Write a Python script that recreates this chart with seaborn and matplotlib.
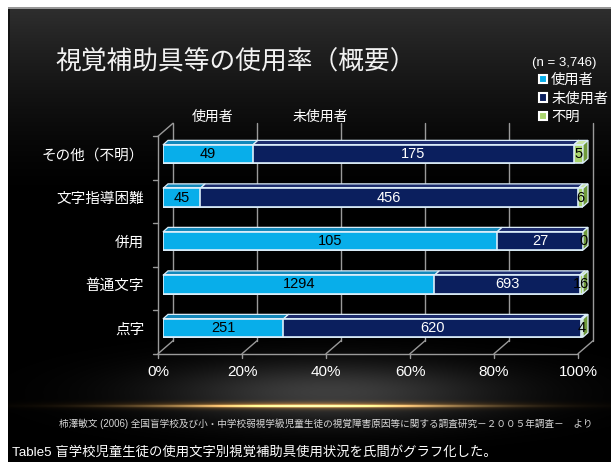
import numpy as np
import pandas as pd
import matplotlib
matplotlib.use("Agg")
import matplotlib.pyplot as plt
import seaborn as sns
from matplotlib.patches import Polygon, Patch
from matplotlib.transforms import ScaledTranslation
from matplotlib import font_manager

# ---- data -------------------------------------------------------------
categories = ["その他（不明）", "文字指導困難", "併用", "普通文字", "点字"]
series = ["使用者", "未使用者", "不明"]
used = [49, 45, 105, 1294, 251]
unused = [175, 456, 27, 693, 620]
unknown = [5, 6, 0, 16, 4]
x_ticks = [0, 20, 40, 60, 80, 100]
x_tick_labels = ["0%", "20%", "40%", "60%", "80%", "100%"]
total_n = 3746

title = "視覚補助具等の使用率（概要）"
header_labels = ["使用者", "未使用者"]
citation = ("柿澤敏文 (2006) 全国盲学校及び小・中学校弱視学級児童生徒の"
            "視覚障害原因等に関する調査研究－２００５年調査－　より")
caption = "Table5 盲学校児童生徒の使用文字別視覚補助具使用状況を氏間がグラフ化した。"

# ---- style ------------------------------------------------------------
sns.set_theme(style="white")
CJK = "Noto Sans CJK JP"
installed = {f.name for f in font_manager.fontManager.ttflist}
NARROW = [f for f in ["Liberation Sans Narrow", "Liberation Sans"]
          if f in installed] + [CJK]
plt.rcParams["font.family"] = [CJK, "DejaVu Sans"]

FACE = {"使用者": "#08AEEA", "未使用者": "#0B1F5E", "不明": "#A9D46E"}
TOP = {"使用者": "#1488BA", "未使用者": "#1E2D6E", "不明": "#C9E4A4"}
SIDE = "#6F9A3A"
EDGE = "#DCEEFA"
GRID = "#9a9a9a"
TXT = {"使用者": "black", "未使用者": "white", "不明": "black"}

# ---- table ------------------------------------------------------------
df = pd.DataFrame({"category": categories, "使用者": used,
                   "未使用者": unused, "不明": unknown})
totals = df[series].sum(axis=1)
pct = df[series].div(totals, axis=0) * 100
ends = pct.cumsum(axis=1)
starts = ends - pct
plot_df = pd.concat([df[["category"]], ends.add_prefix("end_")], axis=1)

# ---- figure & slide background ---------------------------------------
W, H = 611, 462
fig = plt.figure(figsize=(W / 100, H / 100), dpi=100, facecolor="white")

yy, xx = np.mgrid[0:H, 0:W].astype(float)
shade = 46 * np.clip(1 - (yy - 9) / 190, 0, 1) ** 1.5
haze = 62 * np.exp(-(((xx - 330) / 165) ** 2 + ((yy - 392) / 30) ** 2))
img = np.repeat((shade + haze)[..., None], 3, axis=2)
core = np.exp(-((xx - 310) / 140) ** 2) * np.exp(-((yy - 405.5) / 1.2) ** 2)
glow = np.exp(-((xx - 310) / 170) ** 2) * np.exp(-((yy - 405) / 3.5) ** 2)
img += core[..., None] * np.array([255, 215, 140])
img += glow[..., None] * np.array([110, 65, 10])
img = np.clip(img, 0, 255)
img[:7, :] = 255
img[7:9, 8:] = 150
img[:, :8] = 255
img[9:, 8:10] = np.minimum(img[9:, 8:10], 20)

ax_bg = fig.add_axes([0, 0, 1, 1], zorder=0)
ax_bg.imshow(img.astype(np.uint8), extent=(0, W, H, 0), aspect="auto",
             interpolation="bilinear")
ax_bg.set_xlim(0, W)
ax_bg.set_ylim(H, 0)
ax_bg.axis("off")

# ---- chart axes ------------------------------------------------------
left_px, right_px = 163, 583
top_px, bottom_px = 132.25, 349.75
ax = fig.add_axes([left_px / W, 1 - bottom_px / H,
                   (right_px - left_px) / W, (bottom_px - top_px) / H],
                  zorder=1)
ax.set_facecolor("none")

BAR_W = 0.42
# stacked bars: longest cumulative first so shorter ones sit on top
for s in reversed(series):
    sns.barplot(data=plot_df, y="category", x=f"end_{s}", color=FACE[s],
                saturation=1, width=BAR_W, orient="h", errorbar=None,
                edgecolor=EDGE, linewidth=1.2, ax=ax, zorder=3)

ax.set_xlim(0, 100)
ax.set_ylim(len(categories) - 0.5, -0.5)
sns.despine(ax=ax, left=True, bottom=True, top=True, right=True)
ax.set_xlabel("")
ax.set_ylabel("")

# pixel -> data offsets for the oblique depth
px_x = 100 / (right_px - left_px)
px_y = 1 / 43.5


def shift(dx, dy):
    return dx * px_x, dy * px_y


FRONT = shift(-5, 4)
BACK = shift(10, -9)
DEPTH = shift(5, -4.5)
y_top, y_bot = -0.5, len(categories) - 0.5
line_kw = dict(color=GRID, lw=1.0, clip_on=False, zorder=1)

# back wall gridlines
for t in x_ticks:
    ax.plot([t + BACK[0]] * 2, [y_top + BACK[1], y_bot + BACK[1]], **line_kw)
# left wall front edge + top diagonal
ax.plot([FRONT[0]] * 2, [y_top + FRONT[1], y_bot + FRONT[1]], **line_kw)
ax.plot([FRONT[0], BACK[0]], [y_top + FRONT[1], y_top + BACK[1]], **line_kw)
# floor front edge and depth lines
ax.plot([FRONT[0], 100 + FRONT[0]], [y_bot + FRONT[1]] * 2, **line_kw)
for t in x_ticks:
    ax.plot([t + FRONT[0], t + BACK[0]], [y_bot + FRONT[1], y_bot + BACK[1]],
            **line_kw)
    ax.plot([t + FRONT[0]] * 2,
            [y_bot + FRONT[1], y_bot + FRONT[1] + 4 * px_y], **line_kw)
for b in np.arange(y_top, y_bot + 0.01, 1.0):
    ax.plot([FRONT[0], FRONT[0] - 5 * px_x], [b + FRONT[1]] * 2, **line_kw)

# top and side faces of every bar segment, plus value labels
for i in range(len(categories)):
    yt = i - BAR_W / 2
    yb = i + BAR_W / 2
    for s in series:
        lo, hi = starts.loc[i, s], ends.loc[i, s]
        ax.add_patch(Polygon([(lo, yt), (hi, yt),
                              (hi + DEPTH[0], yt + DEPTH[1]),
                              (lo + DEPTH[0], yt + DEPTH[1])],
                             closed=True, facecolor=TOP[s], edgecolor=EDGE,
                             lw=0.9, zorder=2.9, clip_on=False))
        ax.text((lo + hi) / 2, i, f"{df.loc[i, s]}", ha="center",
                va="center", color=TXT[s], fontsize=10.5, family=NARROW,
                zorder=5, clip_on=False)
    hi = ends.loc[i, series[-1]]
    ax.add_patch(Polygon([(hi, yt), (hi, yb),
                          (hi + DEPTH[0], yb + DEPTH[1]),
                          (hi + DEPTH[0], yt + DEPTH[1])],
                         closed=True, facecolor=SIDE, edgecolor=EDGE,
                         lw=0.9, zorder=2.9, clip_on=False))

# tick labels
ax.set_xticks(x_ticks)
ax.set_xticklabels(x_tick_labels, family=NARROW)
ax.tick_params(axis="x", length=0, pad=11, labelsize=11, colors="white")
ax.tick_params(axis="y", length=0, pad=13.5, labelsize=10.5, colors="white")
for lab in ax.get_xticklabels():
    lab.set_transform(lab.get_transform() +
                      ScaledTranslation(-5 / 100, 0, fig.dpi_scale_trans))

# ---- slide texts -----------------------------------------------------
ax_bg.text(55, 62, title, fontsize=18.5, color="#f2f2f2", va="center",
           ha="left")
ax_bg.text(532, 63, f"(n = {total_n:,})", fontsize=9.5, color="white",
           va="center", ha="left", family=NARROW)
ax_bg.text(213, 117, header_labels[0], fontsize=10, color="white",
           va="center", ha="center")
ax_bg.text(320, 117, header_labels[1], fontsize=10, color="white",
           va="center", ha="center")
ax_bg.text(59, 424, citation, fontsize=6.9, color="#d8d8d8", va="center",
           ha="left", family=NARROW)
ax_bg.text(12, 452, caption, fontsize=9.6, color="white", va="center",
           ha="left", family=NARROW)

handles = [Patch(facecolor=FACE[s], edgecolor="white", lw=1.5) for s in series]
fig.legend(handles, series, loc="upper left",
           bbox_to_anchor=(539 / W, 1 - 73 / H), frameon=False,
           labelcolor="white", fontsize=10.3, handlelength=0.55,
           handleheight=0.55, handletextpad=0.3, labelspacing=0.32,
           borderpad=0, borderaxespad=0)

fig.savefig("out.png", dpi=100, facecolor="white")
